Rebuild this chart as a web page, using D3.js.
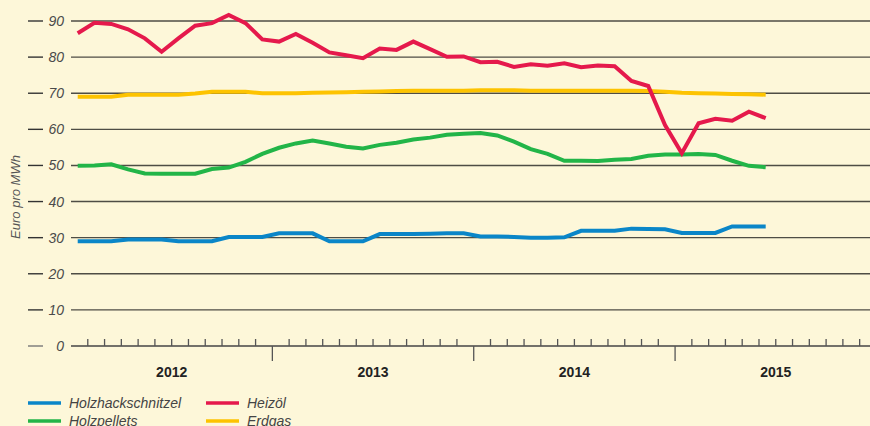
<!DOCTYPE html>
<meta charset="utf-8">
<head>
  <script src="https://d3js.org/d3.v7.min.js"></script>
  <style>
    html, body {
      margin: 0;
      padding: 0;
      background: #fdf7d9;
    }
    svg {
      display: block;
      font-family: "Liberation Sans", Arial, sans-serif;
    }
  </style>
</head>
<body>
  <div id="chart"></div>
<script>
  // monthly prices Jan 2012 .. Jun 2015, Euro pro MWh
  const years = ["2012", "2013", "2014", "2015"]
  const yTicks = [0, 10, 20, 30, 40, 50, 60, 70, 80, 90]

  const holzhackschnitzel = [
    29.0, 29.0, 29.0, 29.5, 29.5, 29.5, 29.0, 29.0, 29.0, 30.2, 30.2, 30.2,
    31.2, 31.2, 31.2, 29.0, 29.0, 29.0, 31.0, 31.0, 31.0, 31.1, 31.2, 31.2,
    30.3, 30.3, 30.2, 30.0, 30.0, 30.1, 31.9, 31.9, 31.9, 32.5, 32.4, 32.3,
    31.3, 31.3, 31.3, 33.1, 33.1, 33.1
  ]
  const holzpellets = [
    49.9, 50.0, 50.3, 48.9, 47.8, 47.7, 47.7, 47.7, 49.0, 49.4, 51.0, 53.2,
    54.9, 56.1, 56.9, 56.1, 55.2, 54.7, 55.7, 56.3, 57.2, 57.7, 58.5, 58.8,
    59.0, 58.3, 56.6, 54.5, 53.2, 51.3, 51.3, 51.2, 51.6, 51.8, 52.7, 53.0,
    53.0, 53.2, 52.9, 51.3, 49.9, 49.5
  ]
  const heizoel = [
    86.6, 89.5, 89.2, 87.7, 85.2, 81.5, 85.2, 88.7, 89.4, 91.7, 89.4, 84.9,
    84.3, 86.4, 84.0, 81.3, 80.5, 79.7, 82.4, 82.0, 84.3, 82.2, 80.1, 80.2,
    78.6, 78.7, 77.3, 78.0, 77.6, 78.3, 77.2, 77.7, 77.5, 73.4, 72.0, 61.2,
    53.4, 61.7, 62.9, 62.4, 64.9, 63.1
  ]
  const erdgas = [
    69.0, 69.0, 69.0, 69.6, 69.6, 69.6, 69.6, 69.9, 70.4, 70.4, 70.4, 70.0,
    70.0, 70.0, 70.1, 70.2, 70.3, 70.4, 70.5, 70.6, 70.7, 70.7, 70.7, 70.7,
    70.8, 70.8, 70.8, 70.7, 70.7, 70.7, 70.7, 70.7, 70.7, 70.7, 70.6, 70.4,
    70.1, 70.0, 69.9, 69.8, 69.7, 69.6
  ]

  const series = [
    { name: "Holzhackschnitzel", values: holzhackschnitzel, color: "#0a86c8" },
    { name: "Holzpellets", values: holzpellets, color: "#22b548" },
    { name: "Heizöl", values: heizoel, color: "#e5194c" },
    { name: "Erdgas", values: erdgas, color: "#fdc300" }
  ]

  const width = 870, height = 426
  const plotLeft = 71, plotRight = 870, plotTop = 21, plotBottom = 346

  const svg = d3.select("#chart").append("svg")
    .attr("width", width)
    .attr("height", height)

  svg.append("rect")
    .attr("width", width).attr("height", height)
    .attr("fill", "#fdf7d9")

  // month index scale, 12 months per year
  const x = d3.scaleLinear()
    .domain([0, 48])
    .range([plotLeft, plotLeft + 48 * 16.78])
  const y = d3.scaleLinear()
    .domain([0, 90])
    .range([plotBottom, plotTop])

  // gridlines
  svg.append("g")
    .selectAll("line")
    .data(yTicks.filter(d => d > 0))
    .enter().append("line")
    .attr("x1", plotLeft).attr("x2", plotRight)
    .attr("y1", d => y(d)).attr("y2", d => y(d))
    .attr("stroke", "#4e4d45")
    .attr("stroke-width", 1.4)

  // y tick dashes + labels
  const yAx = svg.append("g")
  yAx.selectAll("line")
    .data(yTicks)
    .enter().append("line")
    .attr("x1", 28).attr("x2", 43)
    .attr("y1", d => y(d)).attr("y2", d => y(d))
    .attr("stroke", d => d == 0 ? "#777" : "#333")
    .attr("stroke-width", 1.4)
  yAx.selectAll("text")
    .data(yTicks)
    .enter().append("text")
    .attr("x", 64)
    .attr("y", d => y(d))
    .attr("dy", "0.36em")
    .attr("text-anchor", "end")
    .attr("font-size", 14)
    .attr("font-style", "italic")
    .attr("fill", "#4a4a4a")
    .text(d => d)

  svg.append("text")
    .attr("transform", "translate(20,197) rotate(-90)")
    .attr("text-anchor", "middle")
    .attr("font-size", 13)
    .attr("font-style", "italic")
    .attr("fill", "#555")
    .text("Euro pro MWh")

  // x axis
  const xAx = svg.append("g")
  xAx.append("line")
    .attr("x1", plotLeft).attr("x2", plotRight)
    .attr("y1", plotBottom).attr("y2", plotBottom)
    .attr("stroke", "#444")
    .attr("stroke-width", 1.4)
  const monthTicks = d3.range(1, 48)
  xAx.selectAll("line.t")
    .data(monthTicks)
    .enter().append("line")
    .attr("class", "t")
    .attr("x1", d => x(d)).attr("x2", d => x(d))
    .attr("y1", d => d % 12 == 0 ? plotBottom : plotBottom - 7)
    .attr("y2", d => d % 12 == 0 ? plotBottom + 15 : plotBottom)
    .attr("stroke", "#555")
    .attr("stroke-width", 1.3)
  xAx.selectAll("text")
    .data(years)
    .enter().append("text")
    .attr("x", (d, i) => x(i * 12 + 6))
    .attr("y", 377)
    .attr("text-anchor", "middle")
    .attr("font-size", 14)
    .attr("font-weight", "bold")
    .attr("fill", "#222")
    .text(d => d)

  // lines
  const line = d3.line()
    .x((d, i) => x(i + 0.4))
    .y(d => y(d))
  svg.append("g")
    .selectAll("path")
    .data([series[3], series[1], series[0], series[2]])
    .enter().append("path")
    .attr("d", d => line(d.values))
    .attr("fill", "none")
    .attr("stroke", d => d.color)
    .attr("stroke-width", 4)
    .attr("stroke-linejoin", "miter")

  // legend
  const legPos = [[28, 403], [28, 421], [206, 403], [206, 421]]
  const leg = svg.append("g")
    .selectAll("g")
    .data(series)
    .enter().append("g")
    .attr("transform", (d, i) => "translate(" + legPos[i] + ")")
  leg.append("line")
    .attr("x1", 0).attr("x2", 33)
    .attr("stroke", d => d.color)
    .attr("stroke-width", 3.5)
  leg.append("text")
    .attr("x", 41)
    .attr("dy", "0.36em")
    .attr("font-size", 14)
    .attr("font-style", "italic")
    .attr("fill", "#444")
    .text(d => d.name)
</script>
</body>
